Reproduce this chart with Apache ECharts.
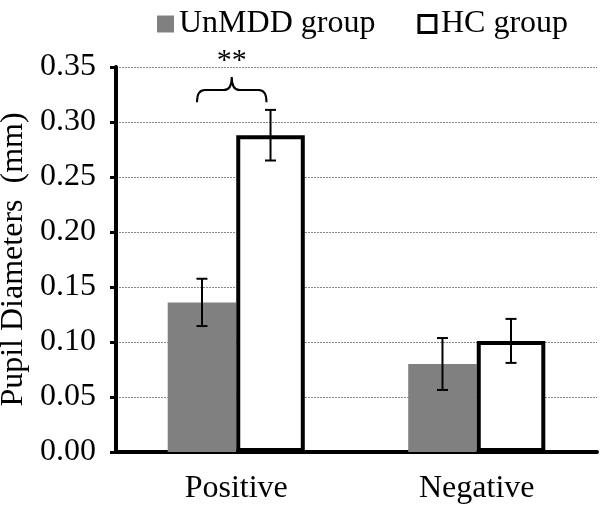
<!DOCTYPE html>
<html>
<head>
<meta charset="utf-8">
<script src="https://cdn.jsdelivr.net/npm/echarts@6/dist/echarts.min.js"></script>
<style>
html,body{margin:0;padding:0;background:#fff;}
#chart{width:602px;height:506px;}
</style>
</head>
<body>
<div id="chart"></div>
<script>
var categories = ['Positive', 'Negative'];
var unmddValues = [0.136, 0.080];
var unmddErrors = [0.0215, 0.0236];
var hcValues = [0.288, 0.101];
var hcErrors = [0.023, 0.020];
var yTicks = [0.00, 0.05, 0.10, 0.15, 0.20, 0.25, 0.30, 0.35];
var sigCategory = 'Positive';
var sigBrace = [0.318, 0.329, 0.341]; // brace ends, line, peak (data units)
var sigLabel = '**';

var FONT = 'Liberation Serif';
var FS = 32;
var CAT_GAP = 0.43;

var chart = echarts.init(document.getElementById('chart'));

function errorSeries(name, values, errors, side) {
  return {
    type: 'custom',
    name: name + ' err',
    z: 10,
    silent: true,
    renderItem: function (params, api) {
      var ci = api.value(0);
      var v = api.value(1);
      var e = api.value(2);
      var band = api.size([1, 0])[0];
      var barW = band * (1 - CAT_GAP) / 2;
      var c = api.coord([ci, v]);
      var x = c[0] + side * barW / 2;
      var top = api.coord([ci, v + e])[1];
      var bot = api.coord([ci, v - e])[1];
      var hw = 5.5;
      var st = { stroke: '#000', lineWidth: 2 };
      return {
        type: 'group',
        children: [
          { type: 'line', shape: { x1: x, y1: top, x2: x, y2: bot }, style: st },
          { type: 'line', shape: { x1: x - hw, y1: top, x2: x + hw, y2: top }, style: st },
          { type: 'line', shape: { x1: x - hw, y1: bot, x2: x + hw, y2: bot }, style: st }
        ]
      };
    },
    data: values.map(function (v, i) { return [i, v, errors[i]]; })
  };
}

var option = {
  animation: false,
  textStyle: { fontFamily: FONT },
  legend: {
    top: 3,
    left: 152,
    itemWidth: 17,
    itemHeight: 17,
    itemGap: 42,
    textStyle: { fontFamily: FONT, fontSize: FS, color: '#000' },
    data: [
      { name: 'UnMDD group', icon: 'rect', itemStyle: { color: '#808080', borderWidth: 0 } },
      { name: 'HC group', icon: 'rect', itemStyle: { color: '#fff', borderColor: '#000', borderWidth: 3 } }
    ]
  },
  grid: { left: 116, right: 5, top: 67, bottom: 54, outerBoundsMode: 'none', containLabel: false },
  xAxis: {
    type: 'category',
    data: categories,
    axisLine: { lineStyle: { color: '#000', width: 4 } },
    axisTick: { show: false },
    axisLabel: { color: '#000', fontFamily: FONT, fontSize: FS, margin: 21 }
  },
  yAxis: {
    type: 'value',
    min: yTicks[0],
    max: yTicks[yTicks.length - 1],
    interval: 0.05,
    name: 'Pupil Diameters  (mm)',
    nameLocation: 'middle',
    nameGap: 78,
    nameRotate: 90,
    nameTextStyle: { color: '#000', fontFamily: FONT, fontSize: FS },
    axisLine: { show: true, lineStyle: { color: '#000', width: 4 } },
    axisTick: { show: true, length: 6, lineStyle: { color: '#000', width: 3 } },
    axisLabel: {
      color: '#000', fontFamily: FONT, fontSize: FS, margin: 20,
      formatter: function (v) { return v.toFixed(2); }
    },
    splitLine: { show: true, lineStyle: { color: '#888', width: 1, type: [2, 1] } }
  },
  series: [
    {
      name: 'UnMDD group',
      type: 'bar',
      data: unmddValues,
      barGap: '0%',
      barCategoryGap: (CAT_GAP * 100) + '%',
      itemStyle: { color: '#808080' }
    },
    {
      name: 'HC group',
      type: 'bar',
      data: hcValues,
      barGap: '0%',
      barCategoryGap: (CAT_GAP * 100) + '%',
      itemStyle: { color: '#fff', borderColor: '#000', borderWidth: 4 }
    },
    errorSeries('UnMDD group', unmddValues, unmddErrors, -1),
    errorSeries('HC group', hcValues, hcErrors, 1),
    {
      type: 'custom',
      name: 'sig',
      z: 11,
      silent: true,
      clip: false,
      renderItem: function (params, api) {
        var ci = api.value(0);
        var band = api.size([1, 0])[0];
        var barW = band * (1 - CAT_GAP) / 2;
        var cx = api.coord([ci, 0])[0];
        var x0 = cx - barW / 2 - 5;
        var x1 = cx + barW / 2 - 4;
        var m = (x0 + x1) / 2;
        var yb = api.coord([ci, api.value(1)])[1];
        var yl = api.coord([ci, api.value(2)])[1];
        var yp = api.coord([ci, api.value(3)])[1];
        var r = 8;
        var d = 'M' + x0 + ',' + yb +
          ' Q' + x0 + ',' + yl + ' ' + (x0 + r) + ',' + yl +
          ' L' + (m - r) + ',' + yl +
          ' Q' + m + ',' + yl + ' ' + m + ',' + yp +
          ' Q' + m + ',' + yl + ' ' + (m + r) + ',' + yl +
          ' L' + (x1 - r) + ',' + yl +
          ' Q' + x1 + ',' + yl + ' ' + x1 + ',' + yb;
        return {
          type: 'group',
          children: [
            { type: 'path', shape: { pathData: d }, style: { stroke: '#000', lineWidth: 2, fill: null } },
            { type: 'text', x: m, y: yp - 1, style: { text: sigLabel, fontFamily: FONT, fontSize: 30, fill: '#000', align: 'center', verticalAlign: 'bottom' } }
          ]
        };
      },
      data: [[categories.indexOf(sigCategory), sigBrace[0], sigBrace[1], sigBrace[2]]]
    }
  ]
};
chart.setOption(option);
</script>
</body>
</html>
